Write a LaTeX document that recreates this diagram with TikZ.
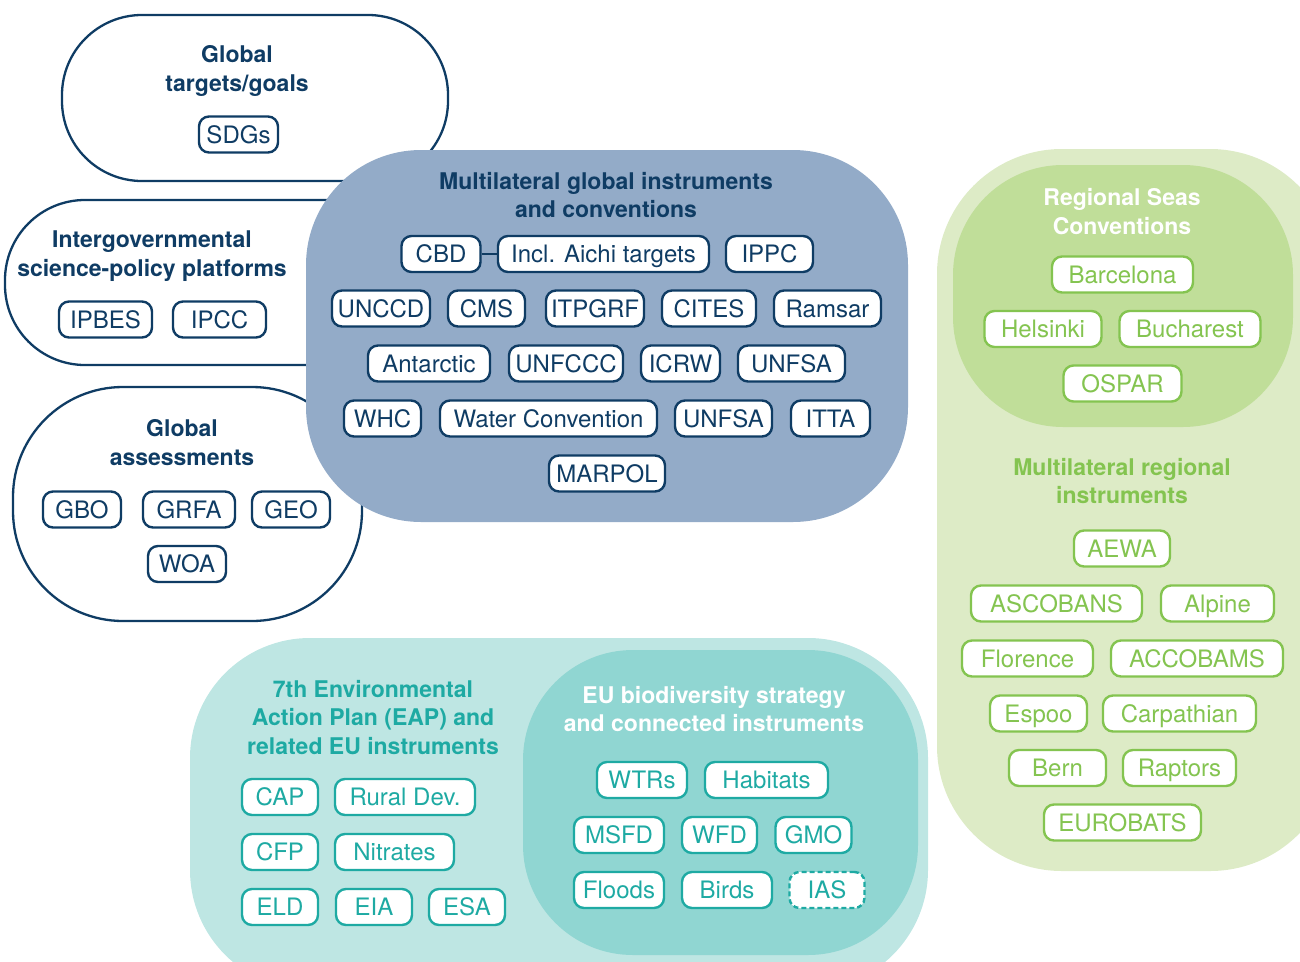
\documentclass[tikz,border=0pt]{standalone}
\usepackage{fontspec}
\setmainfont{TeX Gyre Heros}
\usepackage{tikz}
\definecolor{navy}{HTML}{0F3C64}
\definecolor{steel}{HTML}{93ABC8}
\definecolor{leaf}{HTML}{84C450}
\definecolor{leafpale}{HTML}{DDEBC6}
\definecolor{leafmid}{HTML}{C0DE99}
\definecolor{sea}{HTML}{1EAAA3}
\definecolor{seapale}{HTML}{BEE6E3}
\definecolor{seamid}{HTML}{90D6D2}

\begin{document}
\begin{tikzpicture}[x=1pt, y=-1pt,
  panel/.style={draw=navy, line width=2.3pt, fill=white, rounded corners=#1},
  blob/.style={fill=#1},
  heading/.style={text=#1, align=center, inner sep=0pt,
    font=\fontsize{23}{28.5}\selectfont\bfseries},
  tag/.style={draw=#1, text=#1, fill=white, line width=2.4pt,
    rounded corners=10pt, minimum height=36pt, inner sep=0pt,
    text height=17pt, text depth=0pt,
    font=\fontsize{24}{28}\selectfont},
  w/.style={minimum width=#1pt}]
\clip (0,0) rectangle (1300,961);
% left panels
\draw[panel=80] (62,15) rectangle (448,181);
\draw[panel=80] (5,200) rectangle (420,365);
\draw[panel=110] (13,387) rectangle (362,621);
% global instruments
\fill[blob=steel, rounded corners=115] (306,150) rectangle (908,522);
% regional
\fill[blob=leafpale, rounded corners=125] (937,149) rectangle (1335,871);
\fill[blob=leafmid, rounded corners=110] (953,165) rectangle (1293,427);
% EU
\fill[blob=seapale, rounded corners=120] (190,638) rectangle (928,990);
\fill[blob=seamid, rounded corners=110] (523,650) rectangle (918,955);

% headings
\node[heading=navy] (gtitle) at (237,71) {Global\\targets/goals};
\node[heading=navy] (ititle) at (152,256) {Intergovernmental\\science-policy platforms};
\node[heading=navy] (atitle) at (182,442.5) {Global\\assessments};
\node[heading=navy] (mtitle) at (606,195) {Multilateral global instruments\\and conventions};
\node[heading=white] (stitle) at (1122,211.5) {Regional Seas\\Conventions};
\node[heading=leaf] (rtitle) at (1122,481) {Multilateral regional\\instruments};
\node[heading=sea] (etitle) at (373,717.5) {7th Environmental\\Action Plan (EAP) and\\related EU instruments};
\node[heading=white] (btitle) at (714,709) {EU biodiversity strategy\\and connected instruments};

% global
\node[tag=navy, w=79] (sdgs) at (238.5,134.5) {SDGs};
\node[tag=navy, w=93] (ipbes) at (105.5,319.5) {IPBES};
\node[tag=navy, w=93] (ipcc) at (219.5,319.5) {IPCC};
\node[tag=navy, w=78] (gbo) at (82,509.5) {GBO};
\node[tag=navy, w=92] (grfa) at (189,509.5) {GRFA};
\node[tag=navy, w=78] (geo) at (291,509.5) {GEO};
\node[tag=navy, w=78] (woa) at (187,564) {WOA};

\node[tag=navy, w=79] (cbd) at (441,254) {CBD};
\node[tag=navy, w=211] (aichi) at (603.5,254) {Incl. Aichi targets};
\node[tag=navy, w=87] (ippc) at (769.5,254) {IPPC};
\node[tag=navy, w=98] (unccd) at (381,308.5) {UNCCD};
\node[tag=navy, w=77] (cms) at (486.5,308.5) {CMS};
\node[tag=navy, w=98] (itpgrf) at (595,308.5) {ITPGRF};
\node[tag=navy, w=94] (cites) at (709,308.5) {CITES};
\node[tag=navy, w=107] (ramsar) at (827.5,308.5) {Ramsar};
\node[tag=navy, w=122] (antarctic) at (429,363.5) {Antarctic};
\node[tag=navy, w=114] (unfccc) at (566,363.5) {UNFCCC};
\node[tag=navy, w=79] (icrw) at (680.5,363.5) {ICRW};
\node[tag=navy, w=107] (unfsa) at (791.5,363.5) {UNFSA};
\node[tag=navy, w=77] (whc) at (382.5,418.5) {WHC};
\node[tag=navy, w=217] (water) at (548.5,418.5) {Water Convention};
\node[tag=navy, w=97] (unfsaB) at (723.5,418.5) {UNFSA};
\node[tag=navy, w=79] (itta) at (830.5,418.5) {ITTA};
\node[tag=navy, w=116] (marpol) at (607,473.5) {MARPOL};
\draw[navy, line width=2.4pt] (cbd.east) -- (aichi.west);

% regional seas
\node[tag=leaf, w=141] (barcelona) at (1122.5,274.5) {Barcelona};
\node[tag=leaf, w=117] (helsinki) at (1043,329) {Helsinki};
\node[tag=leaf, w=141] (bucharest) at (1190,329) {Bucharest};
\node[tag=leaf, w=118] (ospar) at (1122.5,383.5) {OSPAR};
% regional instruments
\node[tag=leaf, w=96] (aewa) at (1122,548.5) {AEWA};
\node[tag=leaf, w=171] (ascobans) at (1056.5,603.5) {ASCOBANS};
\node[tag=leaf, w=113] (alpine) at (1217.5,603.5) {Alpine};
\node[tag=leaf, w=131] (florence) at (1027.5,658.5) {Florence};
\node[tag=leaf, w=172] (accobams) at (1197,658.5) {ACCOBAMS};
\node[tag=leaf, w=97] (espoo) at (1038.5,713.5) {Espoo};
\node[tag=leaf, w=153] (carpathian) at (1179.5,713.5) {Carpathian};
\node[tag=leaf, w=97] (bern) at (1057.5,768) {Bern};
\node[tag=leaf, w=113] (raptors) at (1179.5,768) {Raptors};
\node[tag=leaf, w=157] (eurobats) at (1122.5,822.5) {EUROBATS};

% EU instruments
\node[tag=sea, w=76] (cap) at (280,797) {CAP};
\node[tag=sea, w=140] (rural) at (405,797) {Rural Dev.};
\node[tag=sea, w=76] (cfp) at (280,852) {CFP};
\node[tag=sea, w=119] (nitrates) at (394.5,852) {Nitrates};
\node[tag=sea, w=76] (eld) at (280,907) {ELD};
\node[tag=sea, w=76] (eia) at (374,907) {EIA};
\node[tag=sea, w=76] (esa) at (467,907) {ESA};
% biodiversity strategy
\node[tag=sea, w=90] (wtrs) at (642,780) {WTRs};
\node[tag=sea, w=123] (habitats) at (766.5,780) {Habitats};
\node[tag=sea, w=90] (msfd) at (619,835) {MSFD};
\node[tag=sea, w=75] (wfd) at (719.5,835) {WFD};
\node[tag=sea, w=76] (gmo) at (813.5,835) {GMO};
\node[tag=sea, w=90] (floods) at (619,890) {Floods};
\node[tag=sea, w=90] (birds) at (727,890) {Birds};
\node[tag=sea, w=75, dash pattern=on 5pt off 3pt] (ias) at (827,890) {IAS};
\end{tikzpicture}
\end{document}
